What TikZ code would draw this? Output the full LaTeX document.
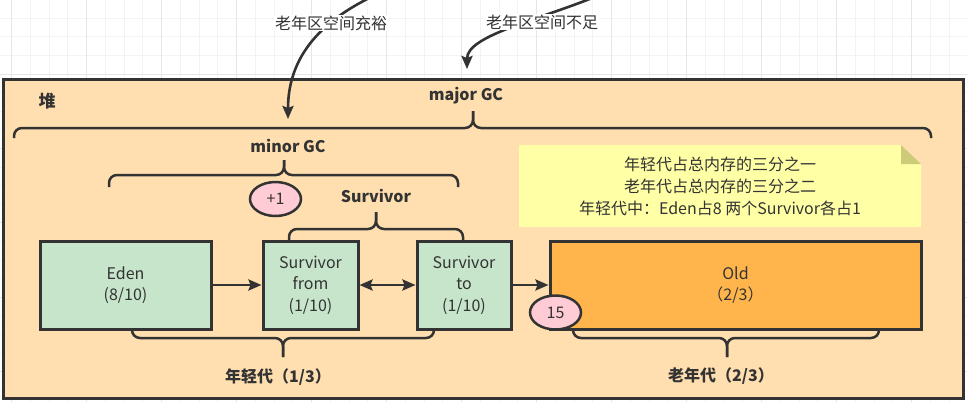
\documentclass[tikz,border=0pt]{standalone}
\usepackage{fontspec}
\setmainfont{Noto Sans CJK SC}
\usetikzlibrary{arrows.meta,shapes.geometric}
\definecolor{ink}{HTML}{333333}
\definecolor{heapfill}{HTML}{FFDFB0}
\definecolor{youngfill}{HTML}{C6E5CB}
\definecolor{oldfill}{HTML}{FFB54C}
\definecolor{pinkfill}{HTML}{FFCCD5}
\definecolor{notefill}{HTML}{FFFFA6}
\definecolor{foldfill}{HTML}{CBCB78}
\definecolor{gridminor}{HTML}{F3F3F3}
\definecolor{gridmajor}{HTML}{E6E6E6}
\newcommand\mybrace[6]{%
  \draw[bracestyle] (#1,#5) -- (#1,#4) -- (#3,#4) -- (#3,#6);
  \draw[bracestyle] (#2,#5) -- (#2,#4) -- (#3,#4) -- (#3,#6);}
\begin{document}
\begin{tikzpicture}[x=1pt,y=-1pt,
  every node/.style={text=ink},
  txt/.style={font=\fontsize{16}{21.5}\selectfont, align=center, inner sep=0pt},
  bold/.style={font=\fontsize{16}{20}\selectfont\bfseries, inner sep=0pt},
  heapbox/.style={draw=ink, line width=3pt, fill=heapfill, inner sep=0pt},
  youngbox/.style={draw=ink, line width=3pt, fill=youngfill, inner sep=0pt, minimum height=88, align=center, font=\fontsize{16}{21.5}\selectfont},
  oldbox/.style={draw=ink, line width=3pt, fill=oldfill, inner sep=0pt, minimum height=88, align=center, font=\fontsize{16}{21.5}\selectfont},
  badge/.style={ellipse, draw=ink, line width=2.5pt, fill=pinkfill, minimum width=51, minimum height=34, inner sep=0pt, font=\fontsize{16}{20}\selectfont},
  conn/.style={draw=ink, line width=2.6pt, -{Stealth[length=13pt,width=11pt,inset=2pt]}},
  biconn/.style={draw=ink, line width=2.6pt, {Stealth[length=13pt,width=11pt,inset=2pt]}-{Stealth[length=13pt,width=11pt,inset=2pt]}},
  bracestyle/.style={draw=ink, line width=2.5pt, rounded corners=8pt},
  gminor/.style={draw=gridminor, line width=1pt},
  gmajor/.style={draw=gridmajor, line width=1pt}
]
\useasboundingbox (0,0) rectangle (967,402);
\fill[white] (0,0) rectangle (967,402);
% grid
\foreach \xx in {11.7,30.45,...,967} \draw[gminor] (\xx,0) -- (\xx,402);
\foreach \yy in {-0.4,18.2,...,402} \draw[gminor] (0,\yy) -- (967,\yy);
\foreach \xx in {11.7,86.7,...,967} \draw[gmajor] (\xx,0) -- (\xx,402);
\foreach \yy in {-0.4,74,...,402} \draw[gmajor] (0,\yy) -- (967,\yy);

% heap
\node[heapbox, minimum width=960, minimum height=319] (heap) at (483,238.5) {};
\node[bold, font=\fontsize{17}{20}\selectfont\bfseries] (dui) at (47,101) {堆};
\node[bold] (major) at (466,96) {major GC};
\node[bold] (minor) at (288,146) {minor GC};
\node[bold] (surv) at (376,196) {Survivor};

% braces
\mybrace{14}{931}{473}{128}{138}{111}
\mybrace{109}{458}{284}{175}{187}{160}
\mybrace{289}{463}{376}{229}{240}{212}
\mybrace{132}{434}{283}{338}{329}{357}
\mybrace{573}{879}{727}{338}{329}{357}

% note
\fill[notefill] (519,145) -- (901,145) -- (921,164) -- (921,227) -- (519,227) -- cycle;
\fill[foldfill] (901,145) -- (901,164) -- (921,164) -- cycle;
\node[txt, font=\fontsize{16}{22}\selectfont] (note) at (720,186) {年轻代占总内存的三分之一\\老年代占总内存的三分之二\\年轻代中：Eden占8 两个Survivor各占1};

% boxes
\node[youngbox, minimum width=171] (eden) at (125.5,285) {Eden\\(8/10)};
\node[youngbox, minimum width=95] (sfrom) at (310.5,285) {Survivor\\from\\(1/10)};
\node[youngbox, minimum width=94] (sto) at (464,285) {Survivor\\to\\(1/10)};
\node[oldbox, minimum width=371] (old) at (735.5,285) {Old\\（2/3）};

\draw[conn] (eden) -- (sfrom);
\draw[biconn] (sfrom) -- (sto);
\draw[conn] (sto) -- (old);

\node[badge] (plus) at (275.5,199) {+1};
\node[badge] (fifteen) at (555.5,312.5) {15};

\node[bold] (young) at (278,377) {年轻代（1/3）};
\node[bold] (oldlab) at (721,376) {老年代（2/3）};

% top arrows
\coordinate (s1) at (382,-8);
\coordinate (t1) at (288,119);
\coordinate (s2) at (602,-6);
\coordinate (t2) at (467,69);
\draw[conn] (s1) .. controls (330,15) and (288,50) .. (t1);
\draw[conn] (s2) .. controls (540,20) and (467,35) .. (t2);
\node[txt, fill=white, inner sep=1pt] (lab1) at (331,23) {老年区空间充裕};
\node[txt, fill=white, inner sep=1pt] (lab2) at (542,22) {老年区空间不足};
\end{tikzpicture}
\end{document}
